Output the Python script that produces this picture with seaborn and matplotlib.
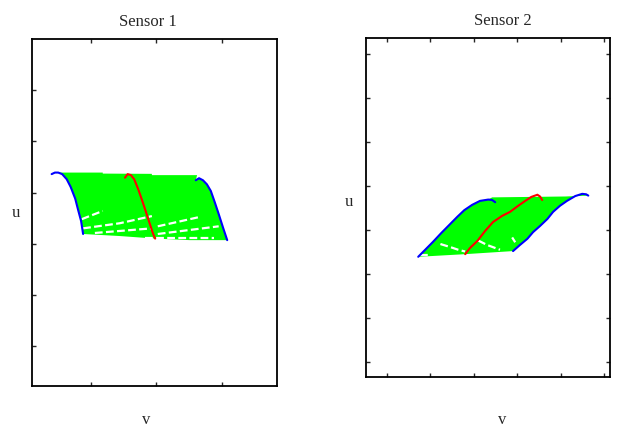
import numpy as np
import matplotlib
matplotlib.use("Agg")
import matplotlib.pyplot as plt
import seaborn as sns

# ---- Sensor 1 (v, u) ----
s1_left_v = [0.40, 0.45, 0.50, 0.56, 0.63, 0.69, 0.76, 0.80, 0.85, 0.88]
s1_left_u = [4.36, 4.39, 4.39, 4.36, 4.26, 4.11, 3.88, 3.68, 3.44, 3.19]
s1_right_v = [2.60, 2.65, 2.71, 2.77, 2.83, 2.89, 2.95, 3.02, 3.08]
s1_right_u = [4.24, 4.28, 4.24, 4.16, 4.03, 3.81, 3.58, 3.30, 3.07]
s1_red_v = [1.52, 1.56, 1.61, 1.66, 1.72, 1.78, 1.84, 1.90, 1.95, 1.98]
s1_red_u = [4.29, 4.36, 4.34, 4.26, 4.07, 3.85, 3.62, 3.38, 3.19, 3.10]
s1_top_v = [1.18, 1.18, 1.93, 1.93, 2.62]
s1_top_u = [4.39, 4.37, 4.365, 4.34, 4.34]
s1_bot_v = [2.51, 1.98, 1.44]
s1_bot_u = [3.07, 3.10, 3.15]
s1_mesh = [
    ([0.86, 1.18], [3.48, 3.64]),
    ([0.88, 1.44, 1.93], [3.30, 3.40, 3.54]),
    ([2.02, 2.65], [3.34, 3.52]),
    ([1.06, 1.93], [3.21, 3.30]),
    ([2.02, 2.95], [3.19, 3.34]),
    ([1.82, 2.88], [3.12, 3.12]),
]

# ---- Sensor 2 (v, u) ----
s2_left_v = [1.72, 1.88, 2.06, 2.25, 2.46, 2.62, 2.78, 2.96, 3.14, 3.33, 3.42, 3.49]
s2_left_u = [3.39, 3.55, 3.73, 3.93, 4.14, 4.30, 4.45, 4.57, 4.66, 4.69, 4.68, 4.63]
s2_right_v = [3.90, 4.06, 4.23, 4.36, 4.52, 4.69, 4.82, 4.98, 5.14, 5.33, 5.49, 5.58, 5.63]
s2_right_u = [3.52, 3.66, 3.80, 3.95, 4.09, 4.25, 4.41, 4.55, 4.66, 4.77, 4.82, 4.81, 4.78]
s2_red_v = [2.80, 2.91, 3.08, 3.26, 3.44, 3.65, 3.83, 4.02, 4.18, 4.32, 4.46, 4.52, 4.57]
s2_red_u = [3.45, 3.59, 3.75, 3.98, 4.18, 4.32, 4.41, 4.55, 4.66, 4.75, 4.80, 4.76, 4.68]
s2_top_v = [3.42, 5.10]
s2_top_u = [4.74, 4.76]
s2_bot_v = [2.80]
s2_bot_u = [3.45]
s2_mesh = [
    ([2.23, 2.46, 2.64, 2.80], [3.68, 3.61, 3.55, 3.51]),
    ([3.10, 3.30, 3.60], [3.76, 3.66, 3.55]),
    ([3.88, 3.95], [3.83, 3.72]),
    ([1.77, 2.00], [3.42, 3.42]),
]

sns.set_style("white")
plt.rcParams["font.family"] = ["Liberation Serif", "DejaVu Serif"]

fig = plt.figure(figsize=(6.26, 4.31), dpi=100)
ax1 = fig.add_axes([0.0511, 0.1021, 0.3914, 0.8051])
ax2 = fig.add_axes([0.5847, 0.1230, 0.3898, 0.7865])

GREEN = "#00ff00"
BLUE = "#0000ff"
RED = "#ff0000"


def draw_sensor(ax, patch_v, patch_u, lv, lu, rv, ru, redv, redu, mesh):
    ax.fill(patch_v, patch_u, color=GREEN, lw=0, zorder=1)
    for mv, mu in mesh:
        ax.plot(mv, mu, color="white", lw=1.6, ls=(0, (3.5, 1.5)), zorder=2)
    sns.lineplot(x=lv, y=lu, sort=False, estimator=None, color=BLUE, lw=1.5, ax=ax, zorder=3)
    sns.lineplot(x=rv, y=ru, sort=False, estimator=None, color=BLUE, lw=1.5, ax=ax, zorder=3)
    sns.lineplot(x=redv, y=redu, sort=False, estimator=None, color=RED, lw=1.5, ax=ax, zorder=3)


# sensor 1 patch: left edge bottom->peak, top edge, right edge top->bottom, bottom edge back
p1_v = s1_left_v[2:][::-1] + s1_top_v + s1_right_v + s1_bot_v
p1_u = s1_left_u[2:][::-1] + s1_top_u + s1_right_u + s1_bot_u
# sensor 2 patch: left edge bottom->peak, top edge, right edge top->bottom, bottom edge back
p2_v = s2_left_v[:10] + s2_top_v + s2_right_v[::-1] + s2_bot_v
p2_u = s2_left_u[:10] + s2_top_u + s2_right_u[::-1] + s2_bot_u

draw_sensor(ax1, p1_v, p1_u, s1_left_v, s1_left_u, s1_right_v, s1_right_u,
            s1_red_v, s1_red_u, s1_mesh)
draw_sensor(ax2, p2_v, p2_u, s2_left_v, s2_left_u, s2_right_v, s2_right_u,
            s2_red_v, s2_red_u, s2_mesh)

ax1.set_xlim(0.10, 3.84)
ax1.set_ylim(0.22, 7.00)
ax1.set_xticks([1, 2, 3])
ax1.set_yticks([1, 2, 3, 4, 5, 6])
ax1.tick_params(direction="in", length=3, width=1, top=True, bottom=True,
                left=True, right=False, labelbottom=False, labelleft=False)

ax2.set_xlim(0.52, 6.13)
ax2.set_ylim(0.66, 8.36)
ax2.set_xticks([1, 2, 3, 4, 5, 6])
ax2.set_yticks([1, 2, 3, 4, 5, 6, 7, 8])
ax2.tick_params(direction="in", length=3, width=1, top=True, bottom=True,
                left=True, right=True, labelbottom=False, labelleft=False)

for ax in (ax1, ax2):
    for sp in ax.spines.values():
        sp.set_color("black")
        sp.set_linewidth(1.3)
    ax.set_xlabel("")
    ax.set_ylabel("")

ax1.set_title("Sensor 1", fontsize=12, x=0.475, pad=10)
ax2.set_title("Sensor 2", fontsize=12, x=0.56, pad=10)
ax1.text(-0.065, 0.50, "u", transform=ax1.transAxes, fontsize=12, ha="center", va="center")
ax1.text(0.465, -0.095, "v", transform=ax1.transAxes, fontsize=12, ha="center", va="center")
ax2.text(-0.07, 0.52, "u", transform=ax2.transAxes, fontsize=12, ha="center", va="center")
ax2.text(0.56, -0.125, "v", transform=ax2.transAxes, fontsize=12, ha="center", va="center")

fig.savefig("out.png", dpi=100, facecolor="white")
